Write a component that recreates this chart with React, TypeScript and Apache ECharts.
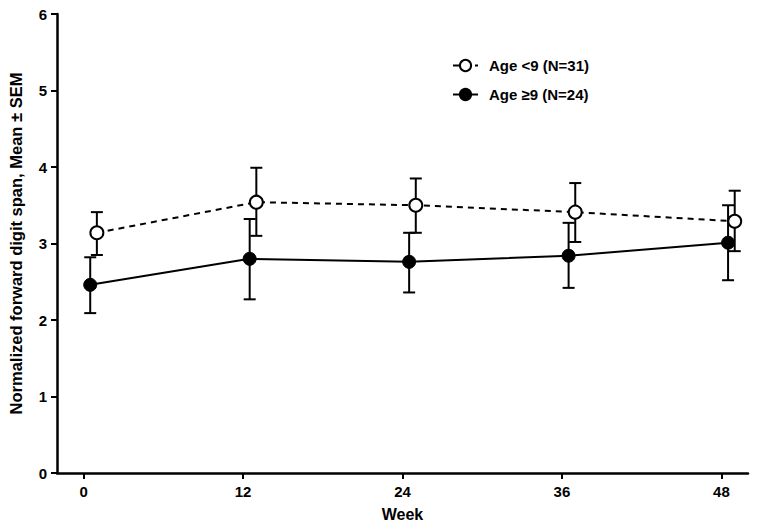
import React, { useEffect, useRef } from "react";
import * as echarts from "echarts";

const weeks = [0, 12, 24, 36, 48];
const tickWeeks = [0, 12, 24, 36, 48];

const under9Name = "Age <9 (N=31)";
const under9Mean = [3.14, 3.54, 3.5, 3.41, 3.29];
const under9Upper = [3.41, 3.99, 3.85, 3.79, 3.69];
const under9Lower = [2.85, 3.1, 3.14, 3.02, 2.9];

const over9Name = "Age \u22659 (N=24)";
const over9Mean = [2.46, 2.8, 2.76, 2.84, 3.01];
const over9Upper = [2.82, 3.32, 3.14, 3.27, 3.5];
const over9Lower = [2.09, 2.27, 2.36, 2.42, 2.52];

// horizontal nudges (in weeks) so the two groups don't overlap
const under9Nudge = 1;
const over9Nudge = 0.5;

const FONT = "Liberation Sans, Arial, sans-serif";

function errorSeries(name: string, nudge: number, lower: number[], upper: number[]) {
  return {
    type: "custom",
    name,
    silent: true,
    z: 1,
    data: weeks.map((w, i) => [w + nudge, lower[i], upper[i]]),
    encode: { x: 0, y: [1, 2] },
    renderItem: (params: any, api: any) => {
      const x = api.value(0);
      const lo = api.coord([x, api.value(1)]);
      const hi = api.coord([x, api.value(2)]);
      const cap = 6;
      const style = { stroke: "#000", lineWidth: 2 };
      return {
        type: "group",
        children: [
          { type: "line", shape: { x1: lo[0], y1: lo[1], x2: hi[0], y2: hi[1] }, style },
          { type: "line", shape: { x1: lo[0] - cap, y1: lo[1], x2: lo[0] + cap, y2: lo[1] }, style },
          { type: "line", shape: { x1: hi[0] - cap, y1: hi[1], x2: hi[0] + cap, y2: hi[1] }, style },
        ],
      };
    },
  };
}

export default function App() {
  const ref = useRef<HTMLDivElement>(null);
  useEffect(() => {
    if (!ref.current) return;
    const chart = echarts.init(ref.current, null, { renderer: "svg" });
    chart.setOption({
      animation: false,
      backgroundColor: "#fff",
      grid: { left: 57, right: 11, top: 14, bottom: 53, containLabel: false, outerBoundsMode: "none" },
      legend: {
        orient: "vertical",
        left: 447,
        top: 53,
        itemWidth: 25,
        itemHeight: 14,
        itemGap: 14,
        data: [under9Name, over9Name],
        textStyle: { fontFamily: FONT, fontWeight: "bold", fontSize: 15, color: "#000", padding: [0, 0, 0, 6] },
      },
      xAxis: {
        type: "value",
        min: -2,
        max: 50,
        name: "Week",
        nameLocation: "middle",
        nameGap: 33,
        nameMoveOverlap: false,
        nameTextStyle: { fontFamily: FONT, fontWeight: "bold", fontSize: 16, color: "#000" },
        axisLine: { show: true, onZero: false, lineStyle: { color: "#000", width: 2.5 } },
        axisTick: { show: true, length: 6, lineStyle: { color: "#000", width: 2 }, customValues: tickWeeks },
        axisLabel: { customValues: tickWeeks, margin: 11, fontFamily: FONT, fontWeight: "bold", fontSize: 15, color: "#000" },
        splitLine: { show: false },
      },
      yAxis: {
        type: "value",
        min: 0,
        max: 6,
        interval: 1,
        name: "Normalized forward digit span, Mean \u00b1 SEM",
        nameLocation: "middle",
        nameGap: 33,
        nameMoveOverlap: false,
        nameTextStyle: { fontFamily: FONT, fontWeight: "bold", fontSize: 16.5, color: "#000" },
        axisLine: { show: true, onZero: false, lineStyle: { color: "#000", width: 2.5 } },
        axisTick: { show: true, length: 6, lineStyle: { color: "#000", width: 2 } },
        axisLabel: { margin: 10, fontFamily: FONT, fontWeight: "bold", fontSize: 15, color: "#000" },
        splitLine: { show: false },
      },
      series: [
        errorSeries(under9Name + " SEM", under9Nudge, under9Lower, under9Upper),
        errorSeries(over9Name + " SEM", over9Nudge, over9Lower, over9Upper),
        {
          type: "line",
          name: under9Name,
          z: 3,
          data: weeks.map((w, i) => [w + under9Nudge, under9Mean[i]]),
          symbol: "circle",
          symbolSize: 13,
          lineStyle: { color: "#000", width: 2, type: [6, 5] },
          itemStyle: { color: "#fff", borderColor: "#000", borderWidth: 2 },
        },
        {
          type: "line",
          name: over9Name,
          z: 3,
          data: weeks.map((w, i) => [w + over9Nudge, over9Mean[i]]),
          symbol: "circle",
          symbolSize: 13,
          lineStyle: { color: "#000", width: 2 },
          itemStyle: { color: "#000", borderColor: "#000", borderWidth: 1 },
        },
      ],
    });
    return () => chart.dispose();
  }, []);
  return <div ref={ref} style={{ width: 759, height: 526, position: "absolute", left: 0, top: 0 }} />;
}
